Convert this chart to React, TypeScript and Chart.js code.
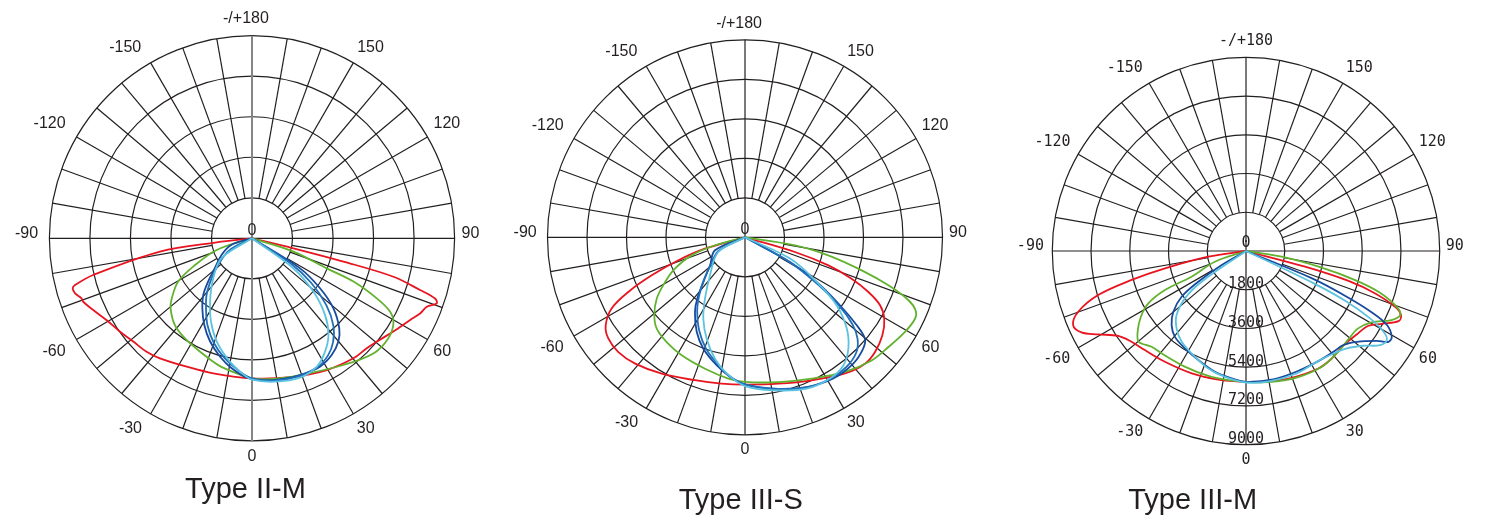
import React, { useEffect, useRef } from 'react';
import { Chart, registerables } from 'chart.js';

Chart.register(...registerables);

// ---------- axis / tick data ----------
const RING_VALUES = [1800, 3600, 5400, 7200, 9000];
const MAX_CD = 9000;
const SPOKE_STEP_DEG = 10;
const ANGLE_LABELS = ['0', '30', '60', '90', '120', '150', '-/+180', '-150', '-120', '-90', '-60', '-30'];
const TITLES = ['Type II-M', 'Type III-S', 'Type III-M'];

type Pt = [number, number]; // [gamma angle in degrees, luminous intensity in cd]

// ---------- Type II-M ----------
const T2M_RED: Pt[] = [[-84, 0], [-83.5, 1580], [-81.8, 4130], [-77, 7240], [-75.2, 8130], [-74.4, 8270], [-72.7, 8230], [-70.6, 8030], [-69.4, 8010], [-65.7, 7740], [-60.6, 7410], [-54.7, 7180], [-49, 6990], [-42.9, 6880], [-37.5, 6720], [-27, 6400], [-16, 6240], [0, 6220], [16.6, 6420], [29.6, 6730], [40.2, 6980], [46.2, 7060], [50.4, 7200], [56.6, 7520], [62.7, 7910], [65.9, 8180], [68.6, 8340], [70.6, 8700], [71.8, 8560], [72.9, 7810], [74.8, 6510], [75.7, 4190], [76.4, 1890], [77, 0]];
const T2M_GREEN: Pt[] = [[-73, 0], [-71.7, 1650], [-64.3, 2900], [-59.6, 3800], [-53.2, 4450], [-49.3, 4770], [-41.6, 5160], [-33.8, 5350], [-24.6, 5540], [-14.9, 5830], [-6.5, 6040], [0, 6220], [8.6, 6320], [19.3, 6440], [35.8, 6940], [46.5, 7430], [53.7, 7510], [59, 7330], [62, 6950], [64.3, 6150], [66.9, 4900], [68.1, 3580], [72.2, 1930], [73.5, 0]];
const T2M_DARK: Pt[] = [[-75, 0], [-72.5, 950], [-61.6, 1530], [-51.3, 2110], [-45.5, 2720], [-40.8, 3310], [-35.5, 3800], [-28.9, 4390], [-22.2, 4940], [-15.2, 5440], [-8.9, 5840], [-1.5, 6210], [8.6, 6370], [19.3, 6440], [27.9, 6450], [34.3, 6280], [39.9, 5980], [44.1, 5570], [49.3, 4770], [53.7, 3750], [58, 2520], [61, 0]];
const T2M_MID: Pt[] = [[-68, 0], [-62, 1150], [-52, 1900], [-45, 2550], [-39, 3200], [-33, 3750], [-27, 4350], [-20, 4950], [-13, 5450], [-6, 5900], [0, 6220], [9, 6400], [19, 6480], [27, 6420], [33, 6200], [38, 5850], [43, 5300], [48, 4450], [53, 3300], [57, 2000], [59, 0]];
const T2M_CYAN: Pt[] = [[-58, 0], [-57, 1610], [-44.3, 2460], [-33.7, 3360], [-26.3, 4120], [-18.9, 4840], [-11, 5500], [-4.4, 6000], [0, 6280], [9, 6450], [19, 6550], [26.8, 6390], [32.8, 5990], [38.3, 5480], [43.6, 4710], [49, 3610], [54, 2270], [56, 0]];

// ---------- Type III-S ----------
const T3S_RED: Pt[] = [[-75.5, 0], [-74.2, 1900], [-71, 3210], [-67.8, 4590], [-64.9, 5870], [-61.9, 6890], [-57.7, 7510], [-53.5, 7750], [-47.8, 7790], [-41, 7630], [-31.4, 7280], [-19.3, 6900], [-9.1, 6750], [0, 6710], [12.8, 6840], [25, 7190], [36.3, 7700], [43.5, 7940], [48.6, 7900], [54.5, 7690], [59.7, 7350], [63.3, 6890], [66.1, 6150], [68.8, 5210], [71.4, 4010], [73.6, 2370], [75, 0]];
const T3S_GREEN: Pt[] = [[-77, 0], [-75.1, 1410], [-71.3, 2570], [-65.9, 3500], [-60.8, 4170], [-55.2, 4900], [-49.3, 5450], [-44, 5790], [-36.8, 5960], [-28.2, 6100], [-16.9, 6260], [-6.7, 6480], [0, 6590], [13, 6770], [25.3, 7120], [36.6, 7640], [45.8, 8050], [52.6, 8230], [59.4, 8470], [64.4, 8590], [66.8, 8460], [69, 7970], [71.5, 6890], [74.2, 5530], [77.8, 3880], [80.9, 2310], [83, 0]];
const T3S_DARK: Pt[] = [[-68, 0], [-66.6, 1490], [-51.3, 2040], [-43, 2780], [-37.9, 3540], [-33.8, 4100], [-27, 4840], [-20.5, 5420], [-12.5, 5970], [-6.1, 6400], [0, 6710], [10.6, 7020], [22.4, 7380], [32, 7590], [40.6, 7580], [46.7, 7400], [49.8, 7150], [51.8, 6480], [54.4, 5320], [58.1, 3850], [61.2, 2340], [66, 0]];
const T3S_MID: Pt[] = [[-66, 0], [-63, 1350], [-52, 1950], [-44, 2700], [-38, 3400], [-33, 4000], [-26, 4750], [-19, 5400], [-11, 6000], [-5, 6450], [0, 6700], [10, 7000], [21, 7350], [30, 7520], [38, 7500], [44, 7300], [48, 6900], [51, 6300], [54, 5300], [57, 4000], [61, 2300], [65, 0]];
const T3S_CYAN: Pt[] = [[-62, 0], [-61.2, 1390], [-42.6, 2360], [-33.1, 3340], [-27.1, 4170], [-20.7, 4940], [-13.9, 5700], [-7.6, 6270], [0, 6780], [10.5, 7090], [22.2, 7450], [31, 7510], [37.5, 7360], [42.9, 6920], [48.1, 6230], [53.4, 5200], [58.1, 3850], [64.7, 2270], [67, 0]];

// ---------- Type III-M ----------
const T3M_RED: Pt[] = [[-82, 0], [-81.4, 1770], [-77.9, 3850], [-75.8, 5480], [-73.4, 7170], [-70.1, 8290], [-66.8, 8740], [-63.7, 8530], [-60.6, 7890], [-56.4, 7130], [-51.6, 6790], [-45.6, 6580], [-36.2, 6380], [-23.9, 6220], [-12.2, 6110], [0, 6080], [8.3, 6140], [19.8, 6260], [31.6, 6410], [38.6, 6390], [45.5, 6300], [53.3, 6450], [58.6, 6670], [61.8, 7160], [65.3, 7800], [67.3, 7810], [69.2, 7500], [71.8, 6320], [73.7, 4960], [75.1, 2840], [75.8, 0]];
const T3M_GREEN: Pt[] = [[-72, 0], [-71, 1530], [-64.7, 2800], [-64.3, 4180], [-61.8, 5150], [-58, 5760], [-53.3, 6280], [-49.7, 6530], [-44.6, 6250], [-38.4, 6150], [-28.2, 6080], [-16.8, 6060], [-7.8, 6060], [0, 6080], [11.1, 6200], [22.5, 6340], [33.2, 6430], [42.5, 6350], [49.2, 6280], [55.4, 6330], [60.4, 6710], [64.6, 7480], [67.4, 7760], [69.7, 7470], [72.9, 6440], [75.1, 5250], [77.6, 3600], [80.9, 1680], [82, 0]];
const T3M_DARK: Pt[] = [[-61, 0], [-60, 1300], [-57.2, 2640], [-54.6, 3670], [-50.1, 4400], [-45.1, 4880], [-39.6, 5180], [-32.1, 5340], [-23.6, 5530], [-14.4, 5800], [-6.4, 5960], [0, 6080], [12, 6100], [24.4, 6080], [34.2, 6130], [40.9, 6200], [46, 6290], [50.7, 6660], [55.5, 7370], [57.5, 7850], [59.5, 7860], [62.3, 7400], [63.9, 6590], [65.6, 5140], [67.5, 3350], [69, 0]];
const T3M_CYAN: Pt[] = [[-57, 0], [-55.3, 2510], [-52.2, 3590], [-47.3, 4390], [-41.9, 4830], [-35.3, 5170], [-26.9, 5420], [-17.8, 5730], [-9.5, 5930], [0, 6110], [10, 6150], [22.5, 6160], [32.6, 6110], [40.5, 6260], [46, 6510], [51.1, 7010], [54.9, 7610], [57.7, 7740], [59.6, 7410], [61.5, 6560], [63.3, 5240], [64.5, 3440], [65, 0]];

// ---------- styles & layout ----------
const RED = '#e8141f';
const GREEN = '#62b22f';
const DARK = '#164a9c';
const MID = '#1f6fba';
const CYAN = '#5cc2e0';
const GRID = '#231f20';
const TEXT = '#231f20';
const D2R = Math.PI / 180;
const W = 480;
const H = 526;

// label centre offsets, as fractions of the outer radius (x right, y down)
const LABEL_OFFSETS: Record<string, [number, number]> = {
  '0': [0, 1.077], '30': [0.561, 0.937], '60': [0.939, 0.56], '90': [1.078, -0.024],
  '120': [0.962, -0.564], '150': [0.585, -0.942], '-/+180': [-0.03, -1.082],
  '-150': [-0.626, -0.942], '-120': [-0.999, -0.564], '-90': [-1.113, -0.024],
  '-60': [-0.977, 0.56], '-30': [-0.6, 0.937],
};

type Curve = { data: Pt[]; color: string };
type Panel = {
  title: string; cx: number; cy: number; R: number; left: number;
  titleX: number; titleY: number; font: string; axisColor: string; axisWidth: number;
  ringLabels: boolean; topDx: number; curves: Curve[];
};

const SANS = '16px "Liberation Sans", Arial, sans-serif';
const MONO = '15px "DejaVu Sans Mono", monospace';

const PANELS: Panel[] = [
  {
    title: TITLES[0], cx: 252, cy: 238.3, R: 202.6, left: 12, titleX: 245.5, titleY: 498.3,
    font: SANS, axisColor: '#858585', axisWidth: 2, ringLabels: false, topDx: -0.03,
    curves: [
      { data: T2M_RED, color: RED }, { data: T2M_GREEN, color: GREEN }, { data: T2M_DARK, color: DARK },
      { data: T2M_MID, color: MID }, { data: T2M_CYAN, color: CYAN },
    ],
  },
  {
    title: TITLES[1], cx: 745, cy: 237.3, R: 197.5, left: 505, titleX: 740.8, titleY: 509.3,
    font: SANS, axisColor: GRID, axisWidth: 1.2, ringLabels: false, topDx: -0.03,
    curves: [
      { data: T3S_RED, color: RED }, { data: T3S_GREEN, color: GREEN }, { data: T3S_DARK, color: DARK },
      { data: T3S_MID, color: MID }, { data: T3S_CYAN, color: CYAN },
    ],
  },
  {
    title: TITLES[2], cx: 1246, cy: 251, R: 193.7, left: 1006, titleX: 1192.6, titleY: 509.3,
    font: MONO, axisColor: GRID, axisWidth: 1.2, ringLabels: true, topDx: 0,
    curves: [
      { data: T3M_RED, color: RED }, { data: T3M_GREEN, color: GREEN }, { data: T3M_DARK, color: DARK },
      { data: T3M_CYAN, color: CYAN },
    ],
  },
];

function makeGridPlugin(p: Panel) {
  return {
    id: 'polarGrid',
    beforeDatasetsDraw(chart: any) {
      const { ctx } = chart;
      const xs = chart.scales.x;
      const ys = chart.scales.y;
      const px = (v: number, a: number) => xs.getPixelForValue(v * Math.sin(a * D2R));
      const py = (v: number, a: number) => ys.getPixelForValue(-v * Math.cos(a * D2R));
      const cx = xs.getPixelForValue(0);
      const cy = ys.getPixelForValue(0);
      ctx.save();
      ctx.strokeStyle = GRID;
      ctx.lineWidth = 1.2;
      RING_VALUES.forEach((v) => {
        const r = xs.getPixelForValue(v) - cx;
        ctx.beginPath();
        ctx.arc(cx, cy, r, 0, Math.PI * 2);
        ctx.stroke();
      });
      for (let a = 0; a < 360; a += SPOKE_STEP_DEG) {
        if (a % 90 === 0) continue;
        ctx.beginPath();
        ctx.moveTo(px(RING_VALUES[0], a), py(RING_VALUES[0], a));
        ctx.lineTo(px(MAX_CD, a), py(MAX_CD, a));
        ctx.stroke();
      }
      ctx.beginPath();
      ctx.moveTo(px(MAX_CD, -90), cy);
      ctx.lineTo(px(MAX_CD, 90), cy);
      ctx.stroke();
      ctx.strokeStyle = p.axisColor;
      ctx.lineWidth = p.axisWidth;
      ctx.beginPath();
      ctx.moveTo(cx, py(MAX_CD, 180));
      ctx.lineTo(cx, py(MAX_CD, 0));
      ctx.stroke();
      ctx.restore();
    },
    afterDatasetsDraw(chart: any) {
      const { ctx } = chart;
      const xs = chart.scales.x;
      const ys = chart.scales.y;
      const cx = xs.getPixelForValue(0);
      const cy = ys.getPixelForValue(0);
      const Rpx = xs.getPixelForValue(MAX_CD) - cx;
      ctx.save();
      ctx.fillStyle = TEXT;
      ctx.font = p.font;
      ctx.textAlign = 'center';
      ctx.textBaseline = 'middle';
      ANGLE_LABELS.forEach((lab) => {
        const off = LABEL_OFFSETS[lab];
        const fx = lab === '-/+180' ? p.topDx : off[0];
        ctx.fillText(lab, cx + fx * Rpx, cy + off[1] * Rpx);
      });
      ctx.fillText('0', cx, cy - 8);
      if (p.ringLabels) {
        ctx.textBaseline = 'alphabetic';
        RING_VALUES.forEach((v) => {
          ctx.fillText(String(v), cx, ys.getPixelForValue(-v) - 1.5);
        });
      }
      ctx.font = '29px "Liberation Sans", Arial, sans-serif';
      ctx.textBaseline = 'alphabetic';
      ctx.fillText(p.title, p.titleX - p.left, p.titleY);
      ctx.restore();
    },
  };
}

function PolarPanel({ p }: { p: Panel }) {
  const ref = useRef<HTMLCanvasElement | null>(null);
  useEffect(() => {
    if (!ref.current) return;
    const cxLocal = p.cx - p.left;
    const datasets = [...p.curves].reverse().map((c) => ({
      data: c.data.map(([a, v]) => ({ x: v * Math.sin(a * D2R), y: -v * Math.cos(a * D2R) })),
      showLine: true,
      borderColor: c.color,
      backgroundColor: c.color,
      borderWidth: 1.8,
      pointRadius: 0,
      tension: 0.35,
      fill: false,
      clip: false as any,
    }));
    const chart = new Chart(ref.current, {
      type: 'scatter',
      data: { datasets },
      options: {
        responsive: false,
        maintainAspectRatio: false,
        animation: false,
        devicePixelRatio: 1,
        events: [],
        layout: {
          padding: {
            left: cxLocal - p.R,
            right: W - (cxLocal + p.R),
            top: p.cy - p.R,
            bottom: H - (p.cy + p.R),
          },
        },
        plugins: { legend: { display: false }, tooltip: { enabled: false }, title: { display: false } },
        scales: {
          x: { type: 'linear', min: -MAX_CD, max: MAX_CD, display: false },
          y: { type: 'linear', min: -MAX_CD, max: MAX_CD, display: false },
        },
      },
      plugins: [makeGridPlugin(p)],
    } as any);
    return () => chart.destroy();
  }, [p]);
  return (
    <canvas
      ref={ref}
      width={W}
      height={H}
      style={{ position: 'absolute', left: p.left, top: 0, width: W, height: H }}
    />
  );
}

export default function App() {
  return (
    <div style={{ position: 'absolute', left: 0, top: 0, width: 1489, height: 526, overflow: 'hidden', background: '#ffffff' }}>
      {PANELS.map((p) => (
        <PolarPanel key={p.title} p={p} />
      ))}
    </div>
  );
}
